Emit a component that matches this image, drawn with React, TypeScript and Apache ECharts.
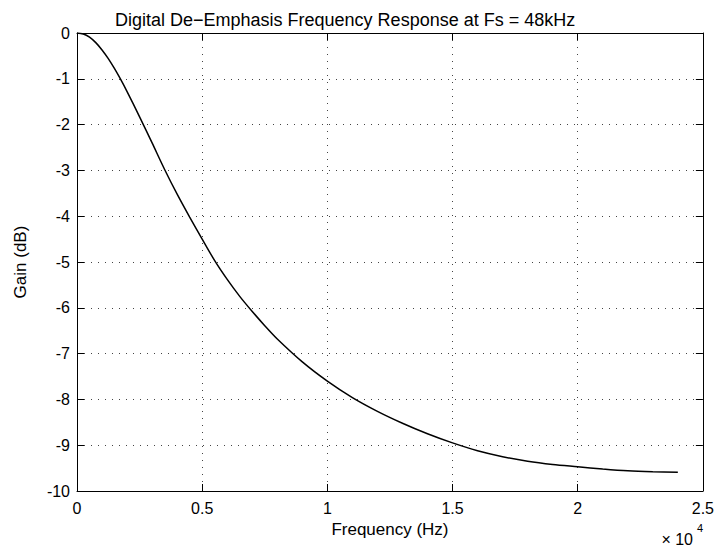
import React, { useEffect, useRef } from "react";
import * as echarts from "echarts";

const titleText = "Digital De\u2212Emphasis Frequency Response at Fs = 48kHz";
const xAxisName = "Frequency (Hz)";
const yAxisName = "Gain (dB)";

const freqHz = [
  0, 250, 500, 750, 1000, 1250, 1500, 1750, 2000, 2500, 3000, 3500, 4000, 4500,
  5000, 5500, 6000, 6500, 7000, 7500, 8000, 9000, 10000, 11000, 12000, 13000,
  14000, 15000, 16000, 17000, 18000, 19000, 20000, 21000, 22000, 23000, 24000,
];
const gainDb = [
  0, -0.02, -0.09, -0.21, -0.37, -0.56, -0.78, -1.02, -1.28, -1.83, -2.4,
  -2.98, -3.52, -4.02, -4.5, -4.97, -5.38, -5.75, -6.08, -6.39, -6.68, -7.18,
  -7.6, -7.96, -8.26, -8.52, -8.75, -8.95, -9.12, -9.25, -9.35, -9.42, -9.47,
  -9.52, -9.56, -9.58, -9.59,
];

const xTickStep = 5000;
const xMax = 25000;
const yMin = -10;
const yMax = 0;
const xScaleNote = "\u00d7 10";
const xScaleExp = "4";

const FONT = "'Liberation Sans', Arial, Helvetica, sans-serif";

export default function App() {
  const ref = useRef<HTMLDivElement>(null);
  useEffect(() => {
    document.body.style.margin = "0";
    const chart = echarts.init(ref.current!, null, { renderer: "svg" });
    const data = freqHz.map((f, i) => [f, gainDb[i]]);
    const gridLine = {
      show: true,
      lineStyle: { color: "#444", width: 1, type: [1, 6] as any },
    };
    chart.setOption({
      animation: false,
      backgroundColor: "#fff",
      textStyle: { fontFamily: FONT },
      title: {
        text: titleText,
        left: 110,
        top: 6,
        textStyle: { fontSize: 18, fontWeight: "normal", color: "#000", fontFamily: FONT },
      },
      grid: { left: 77, right: 14, top: 33, bottom: 61, containLabel: false, show: false },
      xAxis: [
        {
          type: "value",
          min: 0,
          max: xMax,
          interval: xTickStep,
          name: xAxisName,
          nameLocation: "middle",
          nameGap: 14,
          nameTextStyle: { fontSize: 17, color: "#000", fontFamily: FONT },
          axisLine: { show: true, onZero: false, lineStyle: { color: "#000", width: 1 } },
          axisTick: { show: true, inside: true, length: 7, lineStyle: { color: "#000" } },
          axisLabel: {
            fontSize: 16,
            color: "#000",
            margin: 9,
            fontFamily: FONT,
            formatter: (v: number) => String(v / 10000),
          },
          splitLine: gridLine,
        },
        {
          type: "value",
          position: "top",
          min: 0,
          max: xMax,
          interval: xTickStep,
          axisLine: { show: true, onZero: false, lineStyle: { color: "#000", width: 1 } },
          axisTick: { show: true, inside: true, length: 7, lineStyle: { color: "#000" } },
          axisLabel: { show: false },
          splitLine: { show: false },
        },
      ],
      yAxis: [
        {
          type: "value",
          min: yMin,
          max: yMax,
          interval: 1,
          name: yAxisName,
          nameLocation: "middle",
          nameGap: 48,
          nameTextStyle: { fontSize: 17, color: "#000", fontFamily: FONT },
          axisLine: { show: true, onZero: false, lineStyle: { color: "#000", width: 1 } },
          axisTick: { show: true, inside: true, length: 7, lineStyle: { color: "#000" } },
          axisLabel: { fontSize: 16, color: "#000", margin: 7, fontFamily: FONT },
          splitLine: gridLine,
        },
        {
          type: "value",
          position: "right",
          min: yMin,
          max: yMax,
          interval: 1,
          axisLine: { show: true, onZero: false, lineStyle: { color: "#000", width: 1 } },
          axisTick: { show: true, inside: true, length: 7, lineStyle: { color: "#000" } },
          axisLabel: { show: false },
          splitLine: { show: false },
        },
      ],
      graphic: [
        {
          type: "text",
          right: 24,
          top: 531,
          style: { text: xScaleNote, fontSize: 16, fill: "#000", fontFamily: FONT },
        },
        {
          type: "text",
          right: 14,
          top: 522,
          style: { text: xScaleExp, fontSize: 11, fill: "#000", fontFamily: FONT },
        },
      ],
      series: [
        {
          type: "line",
          data,
          xAxisIndex: 0,
          yAxisIndex: 0,
          showSymbol: false,
          smooth: 0.3,
          lineStyle: { color: "#000", width: 1.5 },
        },
      ],
    });
    return () => chart.dispose();
  }, []);
  return (
    <div
      ref={ref}
      style={{ position: "absolute", left: 0, top: 0, width: 717, height: 552, background: "#fff" }}
    />
  );
}
